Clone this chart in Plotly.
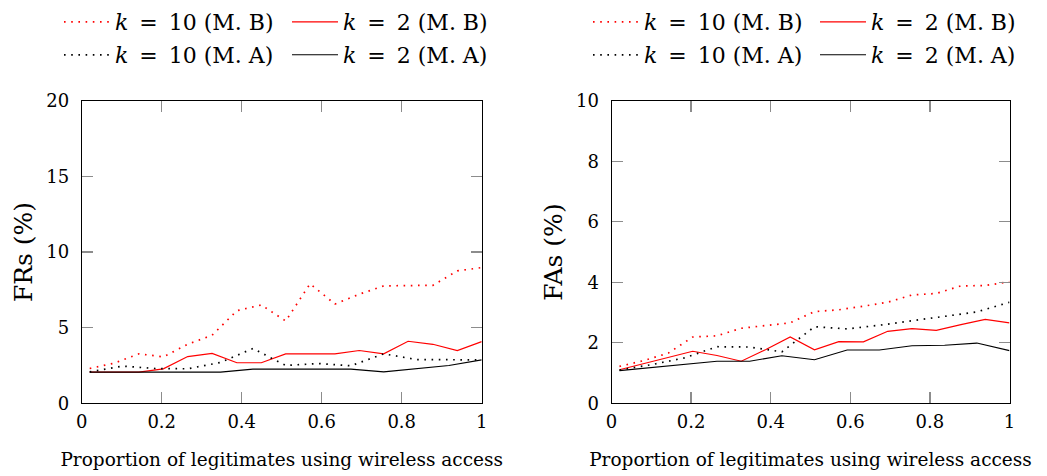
import plotly.graph_objects as go

# x grids (proportion of legitimates using wireless access)
x_b = [0.02, 0.081, 0.143, 0.204, 0.265, 0.326, 0.388, 0.449, 0.51,
       0.571, 0.633, 0.694, 0.755, 0.816, 0.878, 0.939, 1.0]
x_a = [0.02, 0.102, 0.183, 0.265, 0.347, 0.428, 0.51, 0.592, 0.673,
       0.755, 0.837, 0.918, 1.0]

# Left panel: FRs (%)
fr_k10_mb = [2.3, 2.65, 3.27, 3.07, 3.9, 4.5, 6.12, 6.5, 5.44, 7.9, 6.56,
             7.21, 7.76, 7.76, 7.8, 8.75, 8.97]
fr_k2_mb = [2.06, 2.06, 2.06, 2.28, 3.09, 3.3, 2.68, 2.68, 3.27, 3.27, 3.27,
            3.49, 3.27, 4.1, 3.9, 3.49, 4.08]
fr_k10_ma = [2.08, 2.46, 2.3, 2.28, 2.7, 3.62, 2.5, 2.63, 2.48, 3.27, 2.89,
             2.87, 2.87]
fr_k2_ma = [2.06, 2.06, 2.06, 2.06, 2.06, 2.26, 2.26, 2.26, 2.26, 2.08, 2.3,
            2.5, 2.87]

# Right panel: FAs (%)
fa_k10_mb = [1.22, 1.41, 1.66, 2.19, 2.23, 2.48, 2.57, 2.66, 3.03, 3.09, 3.21,
             3.34, 3.58, 3.63, 3.88, 3.89, 4.02]
fa_k2_mb = [1.11, 1.31, 1.52, 1.72, 1.58, 1.39, 1.78, 2.19, 1.77, 2.04, 2.03,
            2.38, 2.47, 2.41, 2.6, 2.77, 2.66]
fa_k10_ma = [1.1, 1.28, 1.5, 1.87, 1.86, 1.7, 2.53, 2.46, 2.58, 2.72, 2.87,
             3.02, 3.34]
fa_k2_ma = [1.08, 1.19, 1.29, 1.39, 1.39, 1.57, 1.44, 1.76, 1.76, 1.9, 1.92,
            1.99, 1.74]

names = ["<i>k</i>\u2002=\u200210 (M. B)", "<i>k</i>\u2002=\u20022 (M. B)",
         "<i>k</i>\u2002=\u200210 (M. A)", "<i>k</i>\u2002=\u20022 (M. A)"]

x_ticks = [0, 0.2, 0.4, 0.6, 0.8, 1]
x_ticklabels = ["0", "0.2", "0.4", "0.6", "0.8", "1"]
fr_ticks = [0, 5, 10, 15, 20]
fa_ticks = [0, 2, 4, 6, 8, 10]

FONT = "DejaVu Serif"
RED = "#ff0000"
BLACK = "#000000"
DOT = "1.6px,5.6px"

fig = go.Figure()

def add(x, y, name, color, dash, width, xa, ya, legend):
    fig.add_trace(go.Scatter(
        x=x, y=y, mode="lines", name=name,
        line=dict(color=color, dash=dash, width=width),
        xaxis=xa, yaxis=ya, legend=legend, showlegend=True,
        hoverinfo="skip"))

# left panel
add(x_b, fr_k10_mb, names[0], RED, DOT, 1.7, "x", "y", "legend")
add(x_b, fr_k2_mb, names[1], RED, "solid", 1.2, "x", "y", "legend")
add(x_a, fr_k10_ma, names[2], BLACK, DOT, 1.7, "x", "y", "legend2")
add(x_a, fr_k2_ma, names[3], BLACK, "solid", 1.1, "x", "y", "legend2")
# right panel
add(x_b, fa_k10_mb, names[0], RED, DOT, 1.7, "x2", "y2", "legend3")
add(x_b, fa_k2_mb, names[1], RED, "solid", 1.2, "x2", "y2", "legend3")
add(x_a, fa_k10_ma, names[2], BLACK, DOT, 1.7, "x2", "y2", "legend4")
add(x_a, fa_k2_ma, names[3], BLACK, "solid", 1.1, "x2", "y2", "legend4")

W, H = 1047, 476
y_dom = [(H - 403.3) / H, (H - 100.7) / H]

axis_common = dict(
    showline=True, linecolor="black", linewidth=1, mirror="allticks",
    ticks="inside", ticklen=11, tickwidth=1.3, tickcolor="#8c8c8c",
    showgrid=False, zeroline=False, automargin=False,
    tickfont=dict(family=FONT, size=18, color="black"),
)

xaxis_common = dict(axis_common, range=[0, 1], tickvals=x_ticks,
                    ticktext=x_ticklabels, ticklabelstandoff=2,
                    title=dict(text="Proportion of legitimates using wireless access",
                               font=dict(family=FONT, size=18.5, color="black"),
                               standoff=22))

ytitle_font = dict(family=FONT, size=25, color="black")

leg_common = dict(orientation="h", bgcolor="rgba(0,0,0,0)", borderwidth=0,
                  font=dict(family=FONT, size=22, color="black"),
                  itemwidth=46, xanchor="left", yanchor="top",
                  entrywidth=167, entrywidthmode="pixels")

fig.update_layout(
    width=W, height=H,
    margin=dict(l=0, r=0, t=0, b=0, autoexpand=False),
    paper_bgcolor="white", plot_bgcolor="white",
    showlegend=True,
    xaxis=dict(xaxis_common, domain=[81.7 / W, 481.7 / W], anchor="y"),
    yaxis=dict(axis_common, domain=y_dom, range=[0, 20], tickvals=fr_ticks,
               anchor="x", ticklabelstandoff=8,
               title=dict(text="FRs (%)", font=ytitle_font, standoff=6)),
    xaxis2=dict(xaxis_common, domain=[611.5 / W, 1009.5 / W], anchor="y2"),
    yaxis2=dict(axis_common, domain=y_dom, range=[0, 10], tickvals=fa_ticks,
                anchor="x2", ticklabelstandoff=8,
                title=dict(text="FAs (%)", font=ytitle_font, standoff=6)),
    legend=dict(leg_common, x=59 / W, y=1 - 1 / H),
    legend2=dict(leg_common, x=59 / W, y=1 - 34 / H),
    legend3=dict(leg_common, x=588 / W, y=1 - 1 / H, entrywidth=166),
    legend4=dict(leg_common, x=588 / W, y=1 - 34 / H, entrywidth=166),
)

fig.write_html("out.html",
               config={"displayModeBar": False, "staticPlot": True},
               post_script="document.body.style.margin='0';")
